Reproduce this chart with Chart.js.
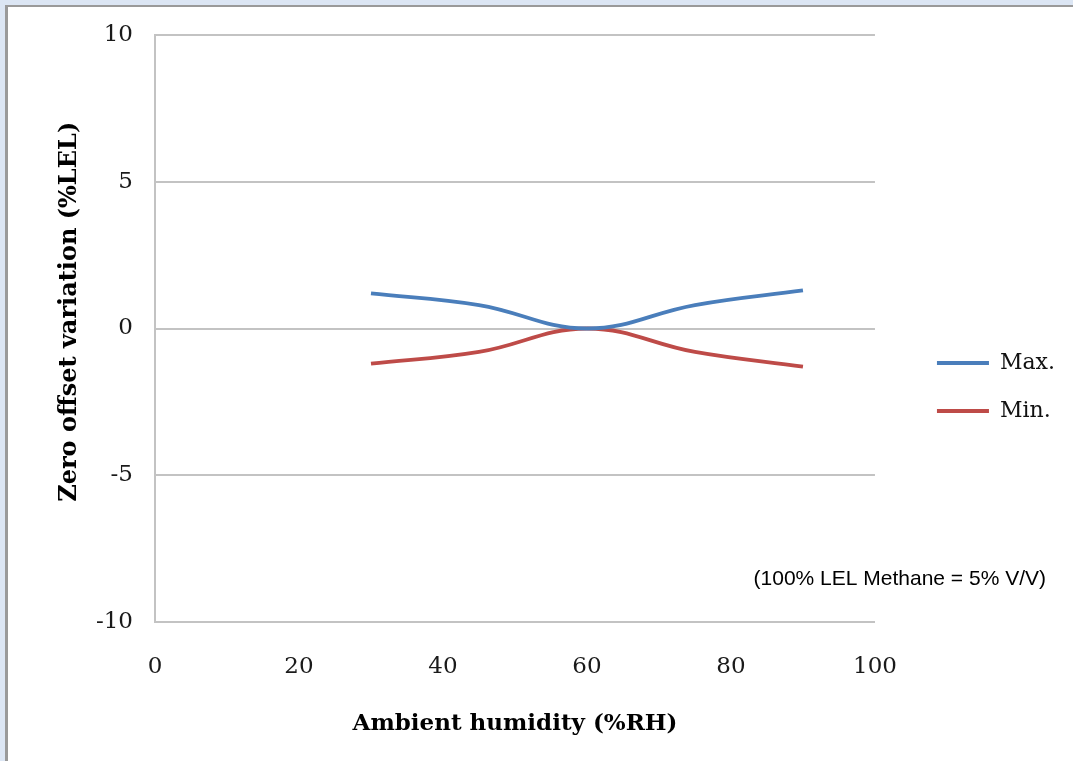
<!DOCTYPE html>
<html lang="en">
<head>
  <meta charset="UTF-8" />
  <title>Zero offset variation vs humidity</title>
  <script src="https://cdn.jsdelivr.net/npm/chart.js"></script>
  <style>
    html, body { margin: 0; padding: 0; }
    body { background: #dce6f4; width: 1073px; height: 761px; position: relative; overflow: hidden; }
    #frame {
      position: absolute; left: 5px; top: 5px;
      width: 1065px; height: 754px;
      background: #fff;
      border-left: 3px solid #9a9a9a;
      border-top: 2px solid #9a9a9a;
    }
    canvas { display: block; }
  </style>
</head>
<body>
  <div id="frame">
    <canvas id="chart" width="1065" height="754"></canvas>
  </div>

  <script>
    // data
    const humidity = [30, 45, 60, 75, 90];
    const maxVals = [1.2, 0.8, 0, 0.8, 1.3];
    const minVals = [-1.2, -0.8, 0, -0.8, -1.3];
    const seriesNames = ['Max.', 'Min.'];
    const xTitle = 'Ambient humidity (%RH)';
    const yTitle = 'Zero offset variation (%LEL)';
    const note = '(100% LEL Methane = 5% V/V)';

    const serif = "'DejaVu Serif', 'Liberation Serif', serif";
    const gridColor = '#c3c3c3';

    const toPoints = vals => humidity.map((h, i) => ({ x: h, y: vals[i] }));

    const notePlugin = {
      id: 'note',
      afterDraw(chart) {
        const c = chart.ctx;
        c.save();
        c.font = "21px 'Liberation Sans', Arial, sans-serif";
        c.fillStyle = '#000';
        c.textAlign = 'right';
        c.textBaseline = 'alphabetic';
        c.fillText(note, 1038, 578);
        c.restore();
      }
    };

    const ctx = document.getElementById('chart').getContext('2d');
    new Chart(ctx, {
      type: 'line',
      data: {
        datasets: [
          { label: seriesNames[0], data: toPoints(maxVals), borderColor: '#4a7ebb', backgroundColor: '#4a7ebb' },
          { label: seriesNames[1], data: toPoints(minVals), borderColor: '#be4b48', backgroundColor: '#be4b48' }
        ]
      },
      options: {
        responsive: false,
        animation: false,
        elements: {
          line: { borderWidth: 3.8, tension: 0.4, fill: false },
          point: { radius: 0 }
        },
        layout: { padding: { top: 28, right: 8, bottom: 22, left: 0 } },
        plugins: {
          tooltip: { enabled: false },
          legend: {
            position: 'right',
            labels: {
              boxWidth: 52,
              boxHeight: 4,
              padding: 26,
              color: '#111',
              font: { family: serif, size: 22 },
              generateLabels(chart) {
                const items = Chart.defaults.plugins.legend.labels.generateLabels(chart);
                items.forEach(it => { it.lineWidth = 0; });
                return items;
              }
            }
          }
        },
        scales: {
          x: {
            type: 'linear',
            min: 0, max: 100,
            ticks: { stepSize: 20, padding: 23, color: '#1a1a1a', font: { family: serif, size: 23 } },
            grid: { display: false },
            border: { display: true, color: gridColor, width: 2 },
            title: { display: true, text: xTitle, color: '#000', font: { family: serif, size: 23, weight: 'bold' }, padding: { top: 20, bottom: 1 } },
            afterFit: s => { s.height = 754 - 22 - 615; }
          },
          y: {
            min: -10, max: 10,
            ticks: { stepSize: 5, padding: 22, color: '#1a1a1a', font: { family: serif, size: 23 } },
            grid: { color: gridColor, lineWidth: 2, drawTicks: false },
            border: { display: true, color: gridColor, width: 2 },
            title: { display: true, text: yTitle.padStart(yTitle.length + 4, ' '), color: '#000', font: { family: serif, size: 24, weight: 'bold' }, padding: { top: 47 } },
            afterFit: s => { s.width = 147; s.paddingTop = 0; s.paddingBottom = 0; }
          },
          spacer: {
            position: 'right',
            display: true,
            grid: { display: false },
            border: { display: false },
            ticks: { display: false },
            afterFit: s => { s.width = 36; s.paddingTop = 0; s.paddingBottom = 0; }
          }
        }
      },
      plugins: [notePlugin]
    });
  </script>
</body>
</html>
